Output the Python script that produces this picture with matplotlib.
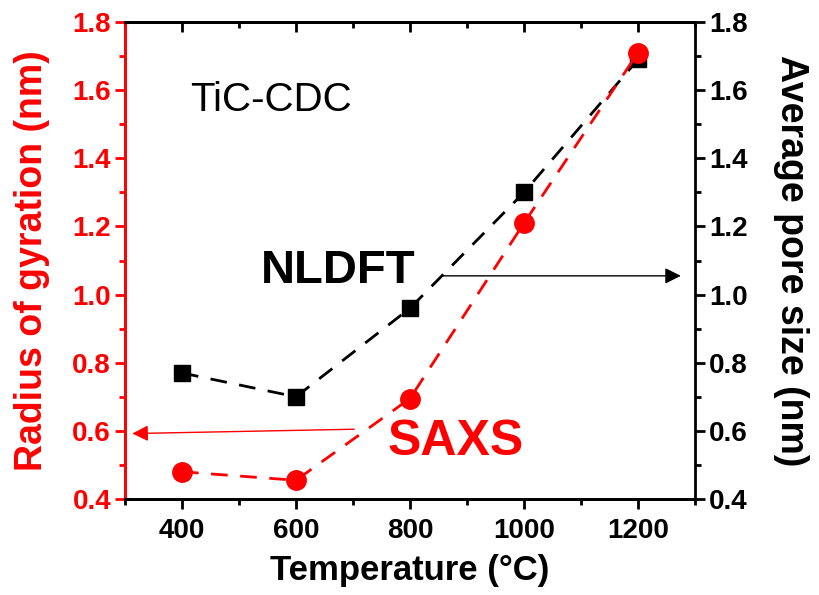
import matplotlib.pyplot as plt
from matplotlib.ticker import MultipleLocator

plt.rcParams['font.family'] = ['Liberation Sans', 'DejaVu Sans']

temperature = [400, 600, 800, 1000, 1200]
saxs_rg = [0.48, 0.455, 0.695, 1.21, 1.71]
nldft_pore = [0.77, 0.70, 0.96, 1.30, 1.69]

fig = plt.figure(figsize=(8.2, 5.95), dpi=100)
ax = fig.add_axes([0.1524, 0.1613, 0.6952, 0.8017])
ax2 = ax.twinx()
# red series drawn on top of black one
ax.set_zorder(ax2.get_zorder() + 1)
ax.patch.set_visible(False)

# SAXS on left axis (red)
ax.plot(temperature, saxs_rg, color='red', ls=(0, (6, 4.5)), lw=2,
        marker='o', ms=14, zorder=3)
# NLDFT on right axis (black)
ax2.plot(temperature, nldft_pore, color='black', ls=(0, (6, 4.5)), lw=2,
         marker='s', ms=12, zorder=3)

ax.set_xlim(300, 1300)
ax.set_ylim(0.4, 1.8)
ax2.set_ylim(0.4, 1.8)
ax.set_xticks([400, 600, 800, 1000, 1200])
ax.xaxis.set_minor_locator(MultipleLocator(100))
for a in (ax, ax2):
    a.yaxis.set_major_locator(MultipleLocator(0.2))
    a.yaxis.set_minor_locator(MultipleLocator(0.1))

for sp in ax.spines.values():
    sp.set_linewidth(2)
for sp in ax2.spines.values():
    sp.set_linewidth(2)
ax2.spines['left'].set_color('red')
ax.spines['left'].set_color('red')
ax.spines['right'].set_visible(False)

ax.tick_params(axis='x', which='major', direction='out', length=7, width=2,
               labelsize=20, top=False, pad=7)
ax.tick_params(axis='x', which='minor', direction='out', length=4, width=2, top=False)
ax.tick_params(axis='y', which='major', direction='out', length=7, width=2,
               labelsize=20, colors='red', pad=3)
ax.tick_params(axis='y', which='minor', direction='out', length=4, width=2, colors='red')
ax2.tick_params(axis='y', which='major', direction='out', length=7, width=2,
                labelsize=20, pad=3)
ax2.tick_params(axis='y', which='minor', direction='out', length=4, width=2)

# top axis inward ticks
top = ax.secondary_xaxis('top')
top.set_xticks([400, 600, 800, 1000, 1200])
top.xaxis.set_minor_locator(MultipleLocator(100))
top.tick_params(which='major', direction='in', length=7, width=2, labeltop=False)
top.tick_params(which='minor', direction='in', length=4, width=2)
top.spines['top'].set_linewidth(2)

for lab in ax.get_xticklabels() + ax.get_yticklabels() + ax2.get_yticklabels():
    lab.set_fontweight('bold')

ax.set_xlabel('Temperature (°C)', fontsize=25, fontweight='bold', labelpad=7)
ax.set_ylabel('Radius of gyration (nm)', fontsize=27, fontweight='bold',
              color='red', labelpad=16)
ax2.set_ylabel('Average pore size (nm)', fontsize=27, fontweight='bold',
               rotation=-90, labelpad=44)

ax.text(414, 1.57, 'TiC-CDC', fontsize=29, va='center', ha='left')
ax.text(538, 1.07, 'NLDFT', fontsize=34, fontweight='bold', va='center', ha='left')
ax.text(761, 0.567, 'SAXS', fontsize=36, fontweight='bold', color='red',
        va='center', ha='left')

ax.annotate('', xy=(1280, 1.055), xytext=(852, 1.055),
            arrowprops=dict(arrowstyle='-|>', color='black', lw=1,
                            mutation_scale=24))
ax.annotate('', xy=(308, 0.592), xytext=(707, 0.605),
            arrowprops=dict(arrowstyle='-|>', color='red', lw=1,
                            mutation_scale=24))

fig.savefig('out.png', dpi=100)
